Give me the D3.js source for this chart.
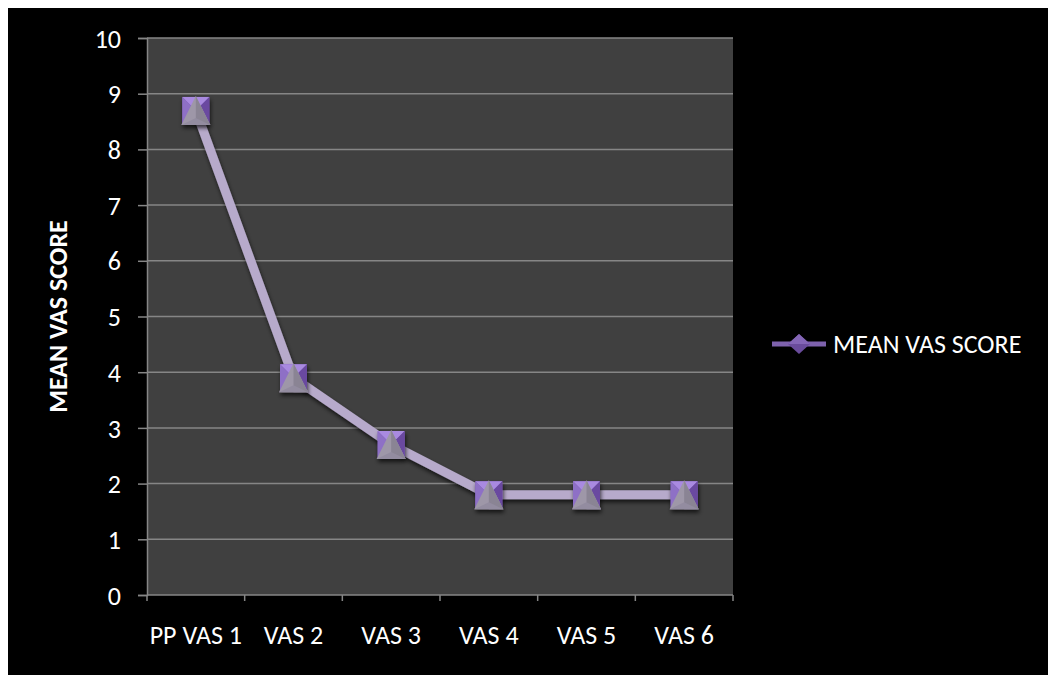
<!DOCTYPE html>
<html>
<head>
<meta charset="utf-8">
<script src="https://cdn.jsdelivr.net/npm/d3@7"></script>
<style>
  html, body { margin: 0; padding: 0; background: #ffffff; }
  svg { display: block; }
  text { font-family: Carlito, Calibri, "Open Sans", "Noto Sans", sans-serif; fill: #ffffff; }
</style>
</head>
<body>
<svg id="chart" width="1048" height="675"></svg>
<script>
// Mean VAS score at each assessment
const categories = ["PP VAS 1", "VAS 2", "VAS 3", "VAS 4", "VAS 5", "VAS 6"];
const meanVas = [8.7, 3.9, 2.7, 1.8, 1.8, 1.8];
const yTicks = [0, 1, 2, 3, 4, 5, 6, 7, 8, 9, 10];
const seriesName = "MEAN VAS SCORE";
const yTitle = "MEAN VAS SCORE";

const svg = d3.select("#chart");
const W = 1048, H = 675;
const plot = { left: 147, right: 733, top: 38, bottom: 595 };
const FS = "26px";

// chart area background
svg.append("rect").attr("x", 8).attr("y", 8).attr("width", W - 8).attr("height", H - 8).attr("fill", "#000000");

const defs = svg.append("defs");
const shadow = defs.append("filter").attr("id", "shadow").attr("x", "-30%").attr("y", "-30%").attr("width", "160%").attr("height", "160%");
shadow.append("feGaussianBlur").attr("in", "SourceAlpha").attr("stdDeviation", 2.2);
shadow.append("feOffset").attr("dx", 1).attr("dy", 3).attr("result", "off");
shadow.append("feComponentTransfer").append("feFuncA").attr("type", "linear").attr("slope", 0.7);
const merge = shadow.append("feMerge");
merge.append("feMergeNode");
merge.append("feMergeNode").attr("in", "SourceGraphic");

const x = d3.scaleBand().domain(categories).range([plot.left, plot.right]).padding(0);
const y = d3.scaleLinear().domain([0, 10]).range([plot.bottom, plot.top]);

// plot area
svg.append("rect")
  .attr("x", plot.left).attr("y", plot.top)
  .attr("width", plot.right - plot.left).attr("height", plot.bottom - plot.top)
  .attr("fill", "#404040");

// horizontal gridlines
svg.append("g").selectAll("line").data(yTicks.filter(d => d > 0)).join("line")
  .attr("x1", plot.left).attr("x2", plot.right)
  .attr("y1", d => y(d)).attr("y2", d => y(d))
  .attr("stroke", "#868686").attr("stroke-width", 1.5);

// y axis
const yAxis = svg.append("g").attr("transform", `translate(${plot.left},0)`)
  .call(d3.axisLeft(y).tickValues(yTicks).tickSize(9).tickPadding(17).tickFormat(d3.format("d")));
yAxis.attr("font-family", null).attr("font-size", null);
yAxis.select(".domain").attr("stroke", "#868686").attr("stroke-width", 1.5);
yAxis.selectAll(".tick line").attr("stroke", "#868686").attr("stroke-width", 1.5);
yAxis.selectAll(".tick text").attr("fill", "#ffffff").style("font-size", FS).attr("dy", "0.35em");

// x axis (ticks between categories)
const xAxisG = svg.append("g");
xAxisG.append("line").attr("x1", plot.left).attr("x2", plot.right)
  .attr("y1", plot.bottom).attr("y2", plot.bottom)
  .attr("stroke", "#868686").attr("stroke-width", 1.5);
const boundaries = categories.map(c => x(c)).concat([x(categories[categories.length - 1]) + x.bandwidth()]);
xAxisG.selectAll("line.tick").data(boundaries).join("line").attr("class", "tick")
  .attr("x1", d => d).attr("x2", d => d)
  .attr("y1", plot.bottom).attr("y2", plot.bottom + 6)
  .attr("stroke", "#868686").attr("stroke-width", 1.5);
xAxisG.selectAll("text").data(categories).join("text")
  .attr("x", d => x(d) + x.bandwidth() / 2)
  .attr("y", 635)
  .attr("dy", "0.35em")
  .attr("text-anchor", "middle")
  .style("font-size", FS)
  .text(d => d);

// y axis title
svg.append("text")
  .attr("transform", `translate(58,${(plot.top + plot.bottom) / 2}) rotate(-90)`)
  .attr("text-anchor", "middle")
  .attr("dy", "0.35em")
  .style("font-size", FS).style("font-weight", "bold")
  .text(yTitle);

// series line
const cx = d => x(d) + x.bandwidth() / 2;
const pts = categories.map((c, i) => [cx(c), y(meanVas[i])]);
svg.append("path")
  .attr("d", d3.line()(pts))
  .attr("fill", "none").attr("stroke", "#b7aacb").attr("stroke-width", 9)
  .attr("stroke-linejoin", "round")
  .attr("filter", "url(#shadow)");

// markers: purple square with a pyramid facet, grey triangle in front
function marker(g, s) {
  const h = s / 2;
  g.append("rect").attr("x", -h).attr("y", -h).attr("width", s).attr("height", s).attr("fill", "#7c5cb3");
  g.append("polygon").attr("points", `${-h},${-h} ${h},${-h} 0,0`).attr("fill", "#a98ae0");
  g.append("polygon").attr("points", `${h},${-h} ${h},${h} 0,0`).attr("fill", "#6a4aa0");
  g.append("polygon").attr("points", `${-h},${-h} ${-h},${h} 0,0`).attr("fill", "#8e6fc6");
  g.append("polygon").attr("points", `0,${-h - 1} ${h + 1},${h + 1} ${-h - 1},${h + 1}`).attr("fill", "#9e97a8");
  g.append("polygon").attr("points", `0,${-h - 1} ${h + 1},${h + 1} 0,${h + 1}`).attr("fill", "#8a8494");
  g.append("polygon").attr("points", `${-h - 1},${h + 1} ${h + 1},${h + 1} 0,${h - 6}`).attr("fill", "#938ca0");
}
svg.append("g").selectAll("g").data(categories).join("g")
  .attr("transform", (c, i) => `translate(${cx(c)},${y(meanVas[i])})`)
  .attr("filter", "url(#shadow)")
  .each(function () { marker(d3.select(this), 27); });

// legend
const lg = svg.append("g").attr("transform", "translate(772,344)");
lg.append("line").attr("x1", 0).attr("x2", 54).attr("y1", 0).attr("y2", 0)
  .attr("stroke", "#7e62ad").attr("stroke-width", 5);
lg.append("polygon").attr("points", "27,-10 38,0 27,10 16,0").attr("fill", "#6a4c9c");
lg.append("polygon").attr("points", "27,-10 38,0 16,0").attr("fill", "#8466b6");
lg.append("text").attr("x", 61).attr("y", 0).attr("dy", "0.35em")
  .style("font-size", FS).text(seriesName);
</script>
</body>
</html>
